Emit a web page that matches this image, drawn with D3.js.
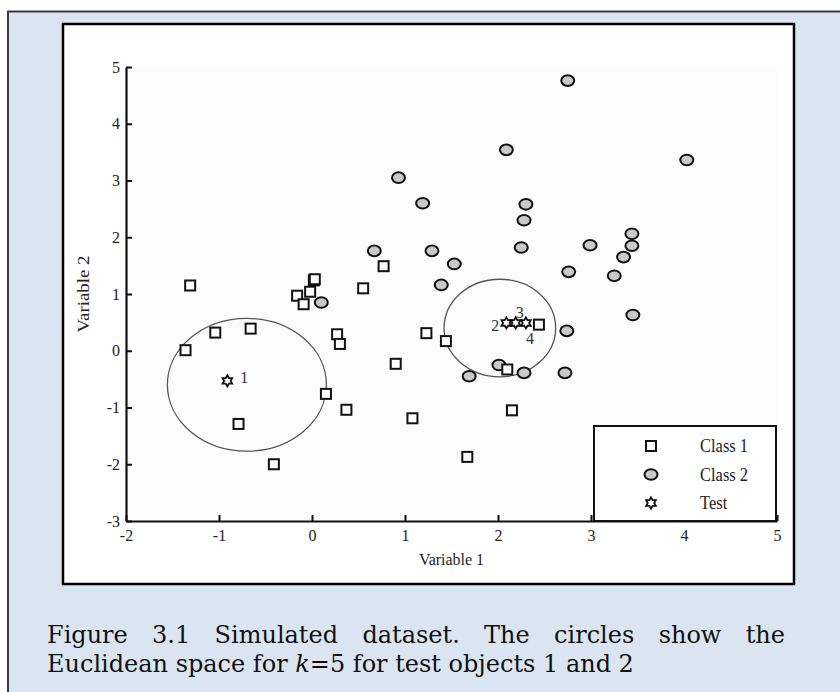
<!DOCTYPE html>
<html>
<head>
<meta charset="utf-8">
<script src="https://cdn.jsdelivr.net/npm/d3@7"></script>
<style>
  html, body { margin: 0; padding: 0; background: #ffffff; }
  svg { display: block; }
</style>
</head>
<body>
<svg id="fig" width="840" height="692"></svg>
<script>
// ---- data ----
const class1X = [-1.31, -0.16, -0.09, -0.02, 0.02, 0.03, -1.04, -0.66, -1.36, 0.27, 0.30, 0.15, 0.37, -0.79, -0.41, 0.55, 0.77, 1.23, 1.44, 0.90, 2.10, 1.08, 2.15, 1.67, 2.44];
const class1Y = [1.15, 0.97, 0.82, 1.04, 1.24, 1.26, 0.32, 0.39, 0.01, 0.29, 0.12, -0.76, -1.04, -1.29, -2.00, 1.10, 1.49, 0.31, 0.17, -0.23, -0.33, -1.19, -1.05, -1.87, 0.46];

const class2X = [2.75, 2.09, 4.03, 0.93, 1.19, 2.30, 2.28, 3.44, 3.44, 2.99, 3.35, 0.67, 1.29, 2.25, 1.53, 2.76, 3.25, 1.39, 3.45, 2.74, 0.10, 2.01, 1.69, 2.28, 2.72];
const class2Y = [4.76, 3.54, 3.36, 3.05, 2.60, 2.58, 2.30, 2.06, 1.85, 1.86, 1.65, 1.76, 1.76, 1.82, 1.53, 1.39, 1.32, 1.16, 0.63, 0.35, 0.85, -0.25, -0.45, -0.39, -0.39];

const testX = [-0.91, 2.09, 2.19, 2.30];
const testY = [-0.53, 0.49, 0.49, 0.49];
const testIds = ["1", "2", "3", "4"];

// neighbourhood outlines around test objects 1 and 2 (centre and half-widths, data units)
const hoodCX = [-0.70, 2.02];
const hoodCY = [-0.60, 0.40];
const hoodRX = [0.855, 0.60];
const hoodRY = [1.17, 0.86];

const xTicks = [-2, -1, 0, 1, 2, 3, 4, 5];
const yTicks = [-3, -2, -1, 0, 1, 2, 3, 4, 5];
const legendLabels = ["Class 1", "Class 2", "Test"];
const captionLine1 = "Figure 3.1 Simulated dataset. The circles show the";

// ---- layout ----
const svg = d3.select("#fig");
const serif = "'Liberation Serif', 'Times New Roman', serif";

// vertical stretch applied to text around a given baseline point
const stretch = (px, py, s) => `translate(${px},${py}) scale(1,${s}) translate(${-px},${-py})`;

// outer panel
svg.append("rect").attr("x", 8).attr("y", 11.5).attr("width", 832).attr("height", 681)
  .attr("fill", "#dbe5f1");
svg.append("path").attr("d", "M8,692V11.5H840")
  .attr("fill", "none").attr("stroke", "#3a3a3a").attr("stroke-width", 2);

// inner figure frame
svg.append("rect").attr("x", 63).attr("y", 24).attr("width", 731).attr("height", 560)
  .attr("fill", "#ffffff").attr("stroke", "#000").attr("stroke-width", 2.5);

const x = d3.scaleLinear().domain([-2, 5]).range([126, 777]);
const y = d3.scaleLinear().domain([-3, 5]).range([521, 67]);

// faint plot field
svg.append("rect").attr("x", x(-2)).attr("y", y(5)).attr("width", x(5) - x(-2)).attr("height", y(-3) - y(5))
  .attr("fill", "#fcfcfc");

// axes
const fmt = d => d < 0 ? "-" + Math.abs(d) : String(d);
const xAxis = svg.append("g").attr("transform", `translate(0,${y(-3)})`)
  .call(d3.axisBottom(x).tickValues(xTicks).tickFormat(fmt).tickSizeInner(-6).tickSizeOuter(0).tickPadding(9));
const yAxis = svg.append("g").attr("transform", `translate(${x(-2)},0)`)
  .call(d3.axisLeft(y).tickValues(yTicks).tickFormat(fmt).tickSizeInner(-6).tickSizeOuter(0).tickPadding(6));

[xAxis, yAxis].forEach(g => {
  g.select(".domain").attr("stroke", "#111").attr("stroke-width", 2.2);
  g.selectAll(".tick line").attr("stroke", "#111").attr("stroke-width", 2);
  g.selectAll(".tick text").attr("fill", "#222").style("font-family", serif).style("font-size", "16px");
});

// axis titles
svg.append("text").attr("x", (x(-2) + x(5)) / 2).attr("y", 565)
  .attr("text-anchor", "middle").style("font-family", serif).style("font-size", "16px").attr("fill", "#222")
  .attr("transform", stretch((x(-2) + x(5)) / 2, 565, 1.1))
  .text("Variable 1");
const yMid = (y(-3) + y(5)) / 2;
svg.append("g").attr("transform", stretch(84, yMid, 1.18))
  .append("text").attr("transform", `translate(89,${yMid}) rotate(-90)`)
  .attr("text-anchor", "middle").style("font-family", serif).style("font-size", "16px").attr("fill", "#222")
  .text("Variable 2");

// neighbourhood ellipses
svg.append("g").selectAll("ellipse").data(hoodCX).join("ellipse")
  .attr("cx", (d, i) => x(d))
  .attr("cy", (d, i) => y(hoodCY[i]))
  .attr("rx", (d, i) => x(d + hoodRX[i]) - x(d))
  .attr("ry", (d, i) => y(hoodCY[i]) - y(hoodCY[i] + hoodRY[i]))
  .attr("fill", "none").attr("stroke", "#555").attr("stroke-width", 1.3);

// marker shapes
const sq = 10;
function starPath(R) {
  const r = R / Math.sqrt(3);
  const pts = d3.range(12).map(i => {
    const a = (-90 + i * 30) * Math.PI / 180;
    const rr = i % 2 === 0 ? R : r;
    return [rr * Math.cos(a), rr * Math.sin(a)];
  });
  return "M" + pts.map(p => p.join(",")).join("L") + "Z";
}
function drawSquare(g) {
  g.append("rect").attr("x", -sq / 2).attr("y", -sq / 2).attr("width", sq).attr("height", sq)
    .attr("fill", "#fff").attr("stroke", "#111").attr("stroke-width", 2);
}
function drawDisc(g) {
  g.append("ellipse").attr("rx", 6.5).attr("ry", 5.3)
    .attr("fill", "#c9c9c9").attr("stroke", "#111").attr("stroke-width", 2);
}
function drawStar(g) {
  g.append("path").attr("d", starPath(5.6))
    .attr("fill", "#fff").attr("stroke", "#111").attr("stroke-width", 1.8).attr("stroke-linejoin", "miter");
}

// class 2 discs
svg.append("g").selectAll("g").data(class2X).join("g")
  .attr("transform", (d, i) => `translate(${x(d)},${y(class2Y[i])})`)
  .each(function () { drawDisc(d3.select(this)); });

// class 1 squares
svg.append("g").selectAll("g").data(class1X).join("g")
  .attr("transform", (d, i) => `translate(${x(d)},${y(class1Y[i])})`)
  .each(function () { drawSquare(d3.select(this)); });

// test objects
svg.append("g").selectAll("g").data(testX).join("g")
  .attr("transform", (d, i) => `translate(${x(d)},${y(testY[i])})`)
  .each(function () { drawStar(d3.select(this)); });

// test object numbers
const idOffset = { "1": [17, -3], "2": [-11, 2], "3": [4, -11], "4": [4, 15] };
svg.append("g").selectAll("text").data(testIds).join("text")
  .attr("x", (d, i) => x(testX[i]) + idOffset[d][0])
  .attr("y", (d, i) => y(testY[i]) + idOffset[d][1])
  .attr("dy", "0.35em").attr("text-anchor", "middle")
  .style("font-family", serif).style("font-size", "16px").attr("fill", "#333")
  .text(d => d);

// legend
const lg = svg.append("g");
const lgX = 594, lgY = 426, lgW = x(5) - 1 - 594, lgH = y(-3) - 426;
lg.append("rect").attr("x", lgX).attr("y", lgY).attr("width", lgW).attr("height", lgH)
  .attr("fill", "#fff").attr("stroke", "#111").attr("stroke-width", 2);
const drawers = [drawSquare, drawDisc, drawStar];
legendLabels.forEach((lab, i) => {
  const ry = lgY + 20 + i * 28.5;
  const g = lg.append("g").attr("transform", `translate(${lgX + 57},${ry})`);
  drawers[i](g);
  lg.append("text").attr("x", lgX + 106).attr("y", ry).attr("dy", "0.35em")
    .attr("transform", stretch(lgX + 106, ry, 1.08))
    .style("font-family", serif).style("font-size", "16.5px").attr("fill", "#222").text(lab);
});

// caption
const capFont = "'DejaVu Serif', serif";
const capSize = 24;
const capScale = 1.04;
const capG = svg.append("g");
// first line, justified between the panel margins
const words = captionLine1.split(" ");
const left = 47, right = 785, base1 = 643;
const tmp = words.map(w => capG.append("text").attr("y", base1)
  .style("font-family", capFont).style("font-size", capSize + "px").attr("fill", "#111")
  .attr("transform", stretch(0, base1, capScale)).text(w));
const widths = tmp.map(t => t.node().getComputedTextLength());
const gap = (right - left - d3.sum(widths)) / (words.length - 1);
let cx = left;
tmp.forEach((t, i) => { t.attr("x", cx); cx += widths[i] + gap; });

// second line
const base2 = 672;
const line2 = capG.append("text").attr("x", left).attr("y", base2)
  .style("font-family", capFont).style("font-size", capSize + "px").attr("fill", "#111")
  .attr("transform", stretch(0, base2, capScale));
line2.append("tspan").text("Euclidean space for ");
line2.append("tspan").style("font-style", "italic").text("k");
line2.append("tspan").text("=5 for test objects 1 and 2");
</script>
</body>
</html>
